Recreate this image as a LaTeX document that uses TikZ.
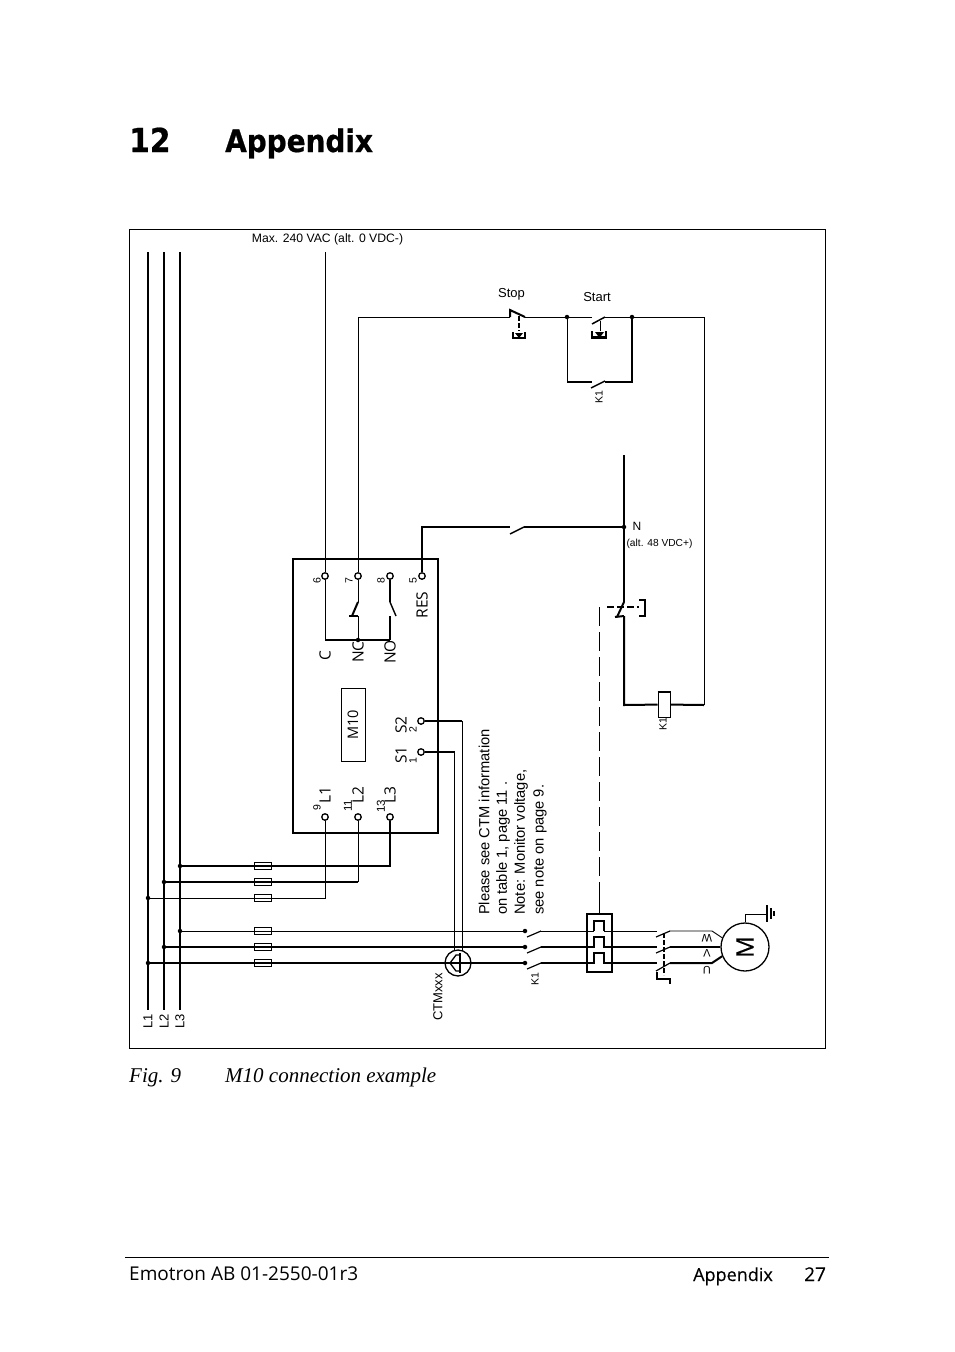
\documentclass[tikz,border=0pt]{standalone}
\usepackage{fontspec}
\setmainfont{Liberation Sans}
\newfontfamily\headfont{Open Sans}
\newfontfamily\ttlfont{DejaVu Sans Condensed Bold}[FakeBold=0.6]
\newfontfamily\fakebold{Open Sans}[FakeBold=0.35]
\newfontfamily\capfont{Liberation Serif}
\begin{document}
\begin{tikzpicture}[x=1pt,y=-1pt,
  thin wire/.style={line width=0.9pt},
  thick wire/.style={line width=2pt},
  term/.style={circle,draw,fill=white,line width=1.3pt,minimum size=6.5pt,inner sep=0pt},
  jdot/.style={circle,fill=black,minimum size=4.5pt,inner sep=0pt},
  fuse/.style={rectangle,draw,line width=1pt,minimum width=17pt,minimum height=7pt,inner sep=0pt},
  lab/.style={inner sep=0pt,font=\fontsize{13}{15}\selectfont},
  vlab/.style={lab,rotate=90},
  small/.style={vlab,font=\fontsize{10.5}{12}\selectfont},
  big/.style={vlab,font=\headfont\fontsize{15.5}{17}\selectfont},
  note/.style={vlab,anchor=west,font=\fontsize{14.7}{17}\selectfont},
  pagetext/.style={inner sep=0pt,anchor=base west},
  longdash/.style={line width=1pt,dash pattern=on 19pt off 6pt}]
\useasboundingbox (0,0) rectangle (954,1352);
\fill[white] (0,0) rectangle (954,1352);

% page text
\node[pagetext,font=\ttlfont\fontsize{33}{36}\selectfont] (ttlnum) at (129,152) {12};
\node[pagetext,font=\ttlfont\fontsize{31}{34}\selectfont] (ttl) at (225,152) {Appendix};
\node[pagetext,font=\capfont\itshape\fontsize{21}{24}\selectfont] (fign) at (129,1082) {Fig. 9};
\node[pagetext,font=\capfont\itshape\fontsize{21}{24}\selectfont] (figt) at (225,1082) {M10 connection example};
\node[pagetext,font=\headfont\fontsize{19}{22}\selectfont] (foot) at (129,1280) {Emotron AB 01-2550-01r3};
\node[pagetext,font=\fakebold\fontsize{18}{22}\selectfont] (fapp) at (693,1281) {Appendix};
\node[pagetext,font=\fakebold\fontsize{19}{22}\selectfont] (fpg) at (804,1281) {27};
\coordinate (ruleL) at (125,1257); \coordinate (ruleR) at (829,1257);
\draw[line width=0.9pt] (ruleL) -- (ruleR);

% frame
\draw[line width=1pt] (129,229) rectangle (825,1048);

% buses
\coordinate (L1t) at (148,252); \coordinate (L1b) at (148,1010);
\coordinate (L2t) at (164,252); \coordinate (L2b) at (164,1010);
\coordinate (L3t) at (180,252); \coordinate (L3b) at (180,1010);
\draw[thick wire] (L1t) -- (L1b) (L2t) -- (L2b) (L3t) -- (L3b);
\node[vlab] (lL1) at (148,1021) {L1};
\node[vlab] (lL2) at (164,1021) {L2};
\node[vlab] (lL3) at (180,1021) {L3};

% relay box
\draw[line width=2pt] (293,559) rectangle (438,833);
\node[term] (t6) at (325,576) {};
\node[term] (t7) at (358,576) {};
\node[term] (t8) at (390,576) {};
\node[term] (t5) at (422,576) {};
\node[term] (t9) at (325,817) {};
\node[term] (t11) at (358,817) {};
\node[term] (t13) at (390,817) {};
\node[term] (tS2) at (421,721) {};
\node[term] (tS1) at (421,752) {};
\node[small] (n6) at (317,581) {6};
\node[small] (n7) at (349,581) {7};
\node[small] (n8) at (381,581) {8};
\node[small] (n5) at (413,581) {5};
\node[small] (n9) at (317,808) {9};
\node[small,font=\fontsize{11.5}{13}\selectfont] (n11) at (348,806) {11};
\node[small,font=\fontsize{11.5}{13}\selectfont] (n13) at (381,806) {13};
\node[small] (n2) at (413,730) {2};
\node[small] (n1) at (413,761) {1};
\node[big] (lC) at (325,656) {C};
\node[big] (lNC) at (358,652) {NC};
\node[big] (lNO) at (390,652) {NO};
\node[big] (lRES) at (422,605) {RES};
\node[big] (lS2) at (401,725) {S2};
\node[big] (lS1) at (401,755) {S1};
\node[big] (lbL1) at (325,795) {L1};
\node[big] (lbL2) at (358,795) {L2};
\node[big] (lbL3) at (390,795) {L3};
\node[draw,line width=1pt,minimum width=24pt,minimum height=73pt,inner sep=0pt] (m10box) at (353,725) {};
\node[big,font=\headfont\fontsize{14.5}{16}\selectfont] (m10) at (353,725) {M10};

% relay contacts
\node[jdot] (dNC) at (358,640) {};
\coordinate (cC) at (325,640); \coordinate (cNO) at (390,640);
\draw[thin wire] (t6) -- (cC);
\draw[thick wire] (cC) -- (dNC) -- (cNO);
\draw[thin wire] (t7) -- (358,602);
\draw[thick wire] (358,602) -- (352,616);
\draw[thick wire] (349,616) -- (358,616);
\draw[thin wire] (358,616) -- (dNC);
\draw[thick wire] (t8) -- (390,602);
\draw[line width=1.4pt] (390,602) -- (396,616);
\draw[thick wire] (390,616) -- (cNO);

% supply wires
\node[lab,font=\fontsize{12.2}{14}\selectfont] (maxv) at (327.5,239) {Max. 240 VAC (alt. 0 VDC-)};
\coordinate (topC) at (325,252);
\draw[thin wire] (topC) -- (t6);
\coordinate (w7) at (358,317); \coordinate (stopA) at (510,317);
\draw[thin wire] (t7) -- (w7) -- (stopA);

% stop
\node[lab] (lstop) at (511.5,294) {Stop};
\coordinate (stopB) at (525,317);
\node[jdot] (dA) at (567,317) {};
\node[jdot] (dB) at (632,317) {};
\draw[thick wire] (stopA) -- (510,310) -- (stopB);
\draw[thin wire] (stopB) -- (dA);
\draw[thick wire,dash pattern=on 5pt off 2pt] (519,316) -- (519,331);
\draw[line width=1.1pt] (513,332) -- (513,338) -- (525,338) -- (525,332);
\fill (515,333) -- (523,333) -- (519,338) -- cycle;

% start
\node[lab] (lstart) at (597,297) {Start};
\coordinate (startA) at (592,317); \coordinate (startB) at (605,317);
\draw[thin wire] (dA) -- (startA);
\draw[line width=1.5pt] (592,324) -- (startB);
\draw[thin wire] (startB) -- (dB);
\draw[thin wire] (600,321) -- (600,331);
\draw[line width=1.1pt] (592,331) -- (592,338) -- (606,338) -- (606,331);
\draw[line width=1.6pt] (592,337) -- (606,337);
\fill (595,332) -- (604,332) -- (599.5,338) -- cycle;
\coordinate (holdL) at (567,382); \coordinate (holdR) at (632,382);
\draw[thin wire] (dA) -- (holdL);
\draw[thick wire] (holdL) -- (592,382);
\draw[line width=1.5pt] (591,388) -- (605,381);
\draw[thick wire] (605,382) -- (holdR) -- (dB);
\node[small] (lk1a) at (599,397) {K1};

% N rail and reset
\coordinate (ntop) at (624,455);
\node[jdot] (dN) at (624,527) {};
\node[lab,font=\fontsize{12}{14}\selectfont] (lN) at (637,526) {N};
\node[lab,font=\fontsize{10.2}{12}\selectfont] (lalt) at (659.5,543.5) {(alt. 48 VDC+)};
\coordinate (resA) at (422,527);
\draw[thick wire] (t5) -- (resA) -- (510,527);
\draw[line width=1.4pt] (510,534) -- (524,527);
\draw[thick wire] (524,527) -- (dN);
\draw[thick wire] (ntop) -- (624,602);
\draw[thick wire] (624,602) -- (617,617);
\draw[thick wire] (615,617) -- (624,616);

% overload contact and coil
\node[draw,line width=1pt,fill=white,minimum width=12pt,minimum height=25pt,inner sep=0pt] (coil) at (664,704.5) {};
\coordinate (cL) at (624,705); \coordinate (cR) at (704,705);
\draw[thick wire] (624,616) -- (cL) -- (coil);
\draw[thick wire] (coil) -- (cR);
\draw[thick wire] (coil.north west) -- (coil.north east);
\node[small] (lk1b) at (663,724) {K1};
\coordinate (rTop) at (704,317);
\draw[thin wire] (dB) -- (rTop) -- (cR);
\draw[thick wire,dash pattern=on 7pt off 3pt] (607,607) -- (639,607);
\draw[line width=1.6pt] (639,600) -- (645,600) -- (645,616) -- (639,616);

% mechanical link
\coordinate (linkT) at (599,607); \coordinate (linkM) at (599,898);
\node[draw,line width=1.3pt,minimum width=25pt,minimum height=58pt,inner sep=0pt] (ol) at (599.5,943) {};
\draw[longdash] (linkT) -- (linkM);
\draw[line width=1pt] (linkM) -- (ol.north -| linkM);

% fuses upper group
\node[jdot] (d31) at (180,866) {};
\node[jdot] (d21) at (164,882) {};
\node[jdot] (d11) at (148,898) {};
\node[jdot] (d32) at (180,931) {};
\node[jdot] (d22) at (164,947) {};
\node[jdot] (d12) at (148,963) {};
\draw[thick wire] (d31) -| (t13);
\draw[thick wire] (d21) -- (358,882);
\draw[thin wire] (358,882) -- (t11);
\draw[thin wire] (d11) -| (t9);

% power lines
\node[jdot] (c1) at (525,931) {};
\node[jdot] (c2) at (525,947) {};
\node[jdot] (c3) at (525,963) {};
\draw[thin wire] (d32) -- (c1);
\draw[thick wire] (d22) -- (c2);
\draw[thick wire] (d12) -- (c3);
\node[fuse] (f1) at (262.5,866) {};
\node[fuse] (f2) at (262.5,882) {};
\node[fuse] (f3) at (262.5,898) {};
\node[fuse] (f4) at (262.5,931) {};
\node[fuse] (f5) at (262.5,947) {};
\node[fuse] (f6) at (262.5,963) {};

% K1 main contacts, heaters, contactor
\draw[line width=1.2pt] (527,937) -- (541,931);
\draw[line width=1.2pt] (527,953) -- (541,947);
\draw[line width=1.2pt] (527,969) -- (541,963);
\draw[thin wire] (541,931) -- (594,931) (604,931) -- (657,931);
\draw[thick wire] (594,931) -- (594,921) -- (604,921) -- (604,931);
\draw[thick wire] (541,947) -- (594,947) -- (594,937) -- (604,937) -- (604,947) -- (657,947);
\draw[thick wire] (541,963) -- (594,963) -- (594,953) -- (604,953) -- (604,963) -- (657,963);
\node[small] (lk1c) at (535,979) {K1};
\draw[line width=1.2pt] (656,937) -- (670,931);
\draw[line width=1.2pt] (656,953) -- (670,947);
\draw[line width=1.2pt] (656,971) -- (670,963);
\draw[line width=1.6pt,dash pattern=on 5pt off 2pt] (664,933) -- (664,975);
\draw[line width=1.2pt] (657,972) -- (657,979) -- (670,979) -- (670,984);

% motor
\node[circle,draw,line width=1.3pt,minimum size=48pt,inner sep=0pt] (mot) at (745,947) {};
\node[vlab,font=\fakebold\fontsize{24}{26}\selectfont] (lM) at (745,947) {M};
\draw[thin wire] (670,931) -- (712,931) -- (mot.158);
\draw[thick wire] (670,947) -- (mot.west);
\draw[thick wire] (670,963) -- (712,963) -- (mot.202);
\node[lab,rotate=180,font=\fontsize{11}{13}\selectfont] (lW) at (707,938) {W};
\node[lab,rotate=180,font=\fontsize{11}{13}\selectfont] (lV) at (707,953) {V};
\node[lab,rotate=180,font=\fontsize{11}{13}\selectfont] (lU) at (707,970) {U};
\coordinate (gnd) at (767,914);
\draw[thin wire] (mot.north) -- (745,914) -- (gnd);
\draw[line width=1.6pt] (767,905) -- (767,922);
\draw[line width=1.6pt] (771,908) -- (771,919);
\draw[line width=1.6pt] (774,911) -- (774,916);

% current transformer
\node[circle,draw,line width=1.3pt,minimum size=26pt,inner sep=0pt] (ct) at (458,963) {};
\draw[line width=1.3pt,line join=round] (450,963) -- (456,955) -- (460,955);
\draw[line width=1.3pt,line join=round] (450,963) -- (456,971) -- (460,971);
\draw[line width=1.6pt] (460,953) -- (460,973);
\coordinate (ctA) at (454.5,950.7); \coordinate (ctB) at (462,950.7);
\draw[thick wire] (tS1) -- (454.5,752);
\draw[thin wire] (454.5,752) -- (ctA);
\draw[thick wire] (tS2) -- (462,721);
\draw[thin wire] (462,721) -- (ctB);
\node[vlab] (lct) at (438,997) {CTMxxx};

% note
\node[note] (n1a) at (484,915) {Please see CTM information};
\node[note] (n1b) at (503,915) {on table 1, page 11 .};
\node[note] (n1c) at (521,915) {Note: Monitor voltage,};
\node[note] (n1d) at (540,915) {see note on page 9.};
\end{tikzpicture}
\end{document}
